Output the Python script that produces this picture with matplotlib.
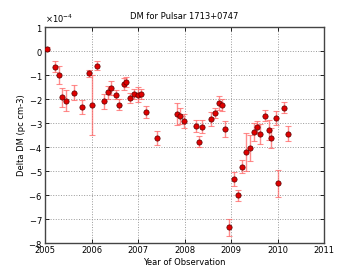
import matplotlib
matplotlib.use("Agg")
import matplotlib.pyplot as plt
import numpy as np

years = [2005.04, 2005.22, 2005.295, 2005.37, 2005.45, 2005.62, 2005.79, 2005.95,
         2006.02, 2006.12, 2006.26, 2006.36, 2006.41, 2006.52, 2006.59, 2006.70,
         2006.74, 2006.82, 2006.92, 2006.99, 2007.07, 2007.17, 2007.40, 2007.83,
         2007.90, 2007.98, 2008.24, 2008.31, 2008.37, 2008.57, 2008.66, 2008.75,
         2008.81, 2008.87, 2008.96, 2009.06, 2009.16, 2009.23, 2009.33, 2009.40,
         2009.49, 2009.55, 2009.62, 2009.73, 2009.81, 2009.85, 2009.97, 2010.01,
         2010.14, 2010.23]
dm = [0.10, -0.65, -1.01, -1.93, -2.08, -1.73, -2.34, -0.93,
      -2.26, -0.61, -2.09, -1.72, -1.54, -1.83, -2.23, -1.37,
      -1.29, -1.94, -1.80, -1.82, -1.79, -2.54, -3.63, -2.63,
      -2.72, -2.91, -3.12, -3.78, -3.15, -2.84, -2.59, -2.17,
      -2.26, -3.24, -7.35, -5.34, -6.02, -4.82, -4.21, -4.05,
      -3.38, -3.17, -3.46, -2.70, -3.28, -3.62, -2.80, -5.52,
      -2.36, -3.45]
err = [0.07, 0.23, 0.37, 0.40, 0.44, 0.30, 0.28, 0.15,
       1.25, 0.18, 0.31, 0.28, 0.30, 0.19, 0.24, 0.24,
       0.22, 0.21, 0.21, 0.31, 0.21, 0.26, 0.28, 0.45,
       0.33, 0.28, 0.26, 0.24, 0.28, 0.29, 0.21, 0.28,
       0.26, 0.33, 0.37, 0.28, 0.23, 0.26, 0.80, 0.55,
       0.38, 0.24, 0.42, 0.23, 0.42, 0.42, 0.28, 0.55,
       0.22, 0.31]

scale = 1e-4
y = np.array(dm) * scale
e = np.array(err) * scale

fig = plt.figure(figsize=(3.6, 2.7), dpi=100)
ax = fig.add_axes([0.125, 0.1, 0.775, 0.8])

ax.errorbar(years, y, yerr=e, fmt='none', ecolor=(1.0, 0.4, 0.4), alpha=0.75,
            elinewidth=1.0, capsize=2, capthick=0.8, zorder=2)
ax.plot(years, y, 'o', color='#e00000', markeredgecolor='#550000',
        markeredgewidth=0.5, markersize=3.8, zorder=3)

ax.set_xlim(2005, 2011)
ax.set_ylim(-8e-4, 1e-4)
ax.set_xticks([2005, 2006, 2007, 2008, 2009, 2010, 2011])
ax.set_xticklabels(['2005', '2006', '2007', '2008', '2009', '2010', '2011'])
ax.set_yticks(np.arange(-8, 2) * scale)
ax.ticklabel_format(axis='y', style='sci', scilimits=(0, 0), useMathText=True)
ax.yaxis.get_offset_text().set_fontsize(6)

ax.grid(True, linestyle=':', color='#999999', linewidth=0.7)
ax.tick_params(direction='in', labelsize=6, length=3, top=True, right=True,
               width=0.6, pad=2)
for s in ax.spines.values():
    s.set_linewidth(1.0)
    s.set_color('#444444')

ax.set_title('DM for Pulsar 1713+0747', fontsize=6, pad=6)
ax.set_xlabel('Year of Observation', fontsize=6, labelpad=2)
ax.set_ylabel('Delta DM (pc cm-3)', fontsize=6, labelpad=2)

fig.savefig('out.png', dpi=100)
